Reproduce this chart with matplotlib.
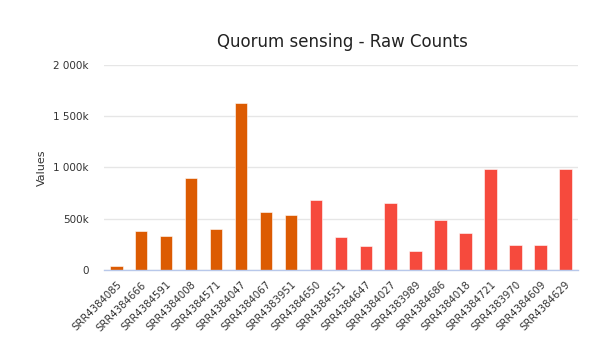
import matplotlib
matplotlib.use('Agg')
import matplotlib.pyplot as plt
import numpy as np

# ---- Data ----
samples = [
    "SRR4384085", "SRR4384666", "SRR4384591", "SRR4384008", "SRR4384571",
    "SRR4384047", "SRR4384067", "SRR4383951", "SRR4384650", "SRR4384551",
    "SRR4384647", "SRR4384027", "SRR4383989", "SRR4384686", "SRR4384018",
    "SRR4384721", "SRR4383970", "SRR4384609", "SRR4384629",
]
raw_counts = [
    39000, 378000, 336000, 897000, 395000,
    1625000, 568000, 538000, 685000, 326000,
    231000, 649000, 189000, 490000, 362000,
    982000, 241000, 248000, 982000,
]
groups = ["A"] * 8 + ["B"] * 11
yticks = [0, 500000, 1000000, 1500000, 2000000]
ytick_labels = ["0", "500k", "1 000k", "1 500k", "2 000k"]

GROUP_COLORS = {"A": "#dc5b02", "B": "#f64a3d"}

fig = plt.figure(figsize=(6.0, 3.37), dpi=100)
ax = fig.add_axes([0.173, 0.199, 0.79, 0.608])

x = np.arange(len(samples))
colors = [GROUP_COLORS[g] for g in groups]
ax.bar(x, raw_counts, width=0.5, color=colors, edgecolor='white',
       linewidth=0.4, zorder=3)

ax.set_xlim(-0.5, len(samples) - 0.5)
ax.set_ylim(0, 2000000)
ax.set_yticks(yticks)
ax.set_yticklabels(ytick_labels, fontsize=7.5, color='#333333')
ax.set_xticks(x)
ax.set_xticklabels(samples, rotation=45, ha='right', rotation_mode='anchor',
                   fontsize=7.3, color='#333333')
ax.tick_params(axis='y', length=0, pad=11)
ax.tick_params(axis='x', length=0, pad=7)

ax.grid(axis='y', color='#e6e6e6', linewidth=1, zorder=0)
for side in ('top', 'right', 'left'):
    ax.spines[side].set_visible(False)
ax.spines['bottom'].set_color('#b8c8ea')
ax.spines['bottom'].set_linewidth(1)
ax.spines['bottom'].set_zorder(4)

ax.set_ylabel('Values', fontsize=8, color='#333333')
ax.yaxis.set_label_coords(-0.12, 0.5)
fig.text(0.57, 0.875, 'Quorum sensing - Raw Counts', ha='center',
         va='center', fontsize=12, color='#222222')

fig.savefig('out.png', dpi=100)
